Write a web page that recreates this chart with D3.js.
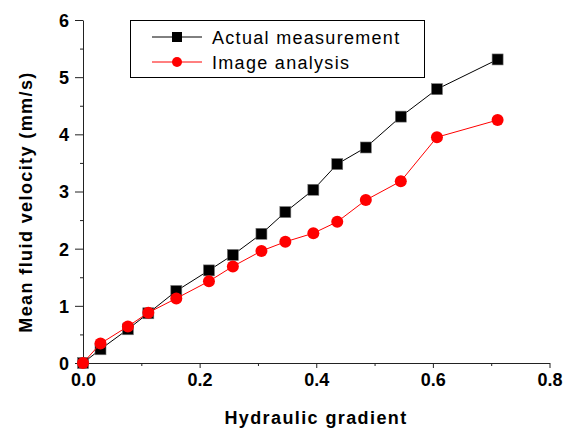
<!DOCTYPE html>
<html>
<head>
<meta charset="utf-8">
<script src="https://cdn.jsdelivr.net/npm/d3@7"></script>
<style>
  body { margin: 0; background: #fff; }
  svg { display: block; }
</style>
</head>
<body>
<div class="chart"></div>
<script>
var gradient = [0, 0.03, 0.077, 0.112, 0.16, 0.216, 0.257, 0.306, 0.347, 0.395, 0.436, 0.485, 0.545, 0.607, 0.711];
var actualMeasurement = [0, 0.24, 0.59, 0.87, 1.26, 1.62, 1.89, 2.26, 2.64, 3.03, 3.48, 3.77, 4.31, 4.79, 5.31];
var imageAnalysis = [0, 0.34, 0.64, 0.88, 1.13, 1.43, 1.69, 1.96, 2.12, 2.27, 2.47, 2.85, 3.18, 3.95, 4.25];
var seriesNames = ["Actual measurement", "Image analysis"];
var xTicks = [0, 0.2, 0.4, 0.6, 0.8];
var yTicks = [0, 1, 2, 3, 4, 5, 6];

var width = 572, height = 430;
var margin = { top: 20, right: 23, bottom: 67, left: 83 };
var plotW = width - margin.left - margin.right,
  plotH = height - margin.top - margin.bottom;

var svg = d3
  .select(".chart")
  .append("svg")
  .attr("width", width)
  .attr("height", height);

var g = svg
  .append("g")
  .attr("transform", "translate(" + margin.left + "," + margin.top + ")");

var x = d3.scaleLinear().domain([0, 0.8]).range([0, 466.5]);
var y = d3.scaleLinear().domain([0, 6]).range([plotH, 0]);

var axisColor = "#222";
var tickFont = "bold 18px 'Liberation Sans', Arial, sans-serif";

// minor ticks first
g.append("g")
  .attr("transform", "translate(0," + plotH + ")")
  .call(d3.axisBottom(x).tickValues(d3.range(0.1, 0.8, 0.2)).tickSize(3).tickFormat(""))
  .call(function (a) { a.select(".domain").remove(); });
g.append("g")
  .call(d3.axisLeft(y).tickValues(d3.range(0.5, 6, 1)).tickSize(3).tickFormat(""))
  .call(function (a) { a.select(".domain").remove(); });

var xAxis = g
  .append("g")
  .attr("transform", "translate(0," + plotH + ")")
  .call(d3.axisBottom(x).tickValues(xTicks).tickSize(5).tickSizeOuter(0).tickPadding(5).tickFormat(d3.format(".1f")));

var yAxis = g
  .append("g")
  .call(d3.axisLeft(y).tickValues(yTicks).tickSize(8).tickSizeOuter(0).tickPadding(6).tickFormat(d3.format("d")));

[xAxis, yAxis].forEach(function (a) {
  a.selectAll("text").style("font", tickFont).style("fill", "#000");
});
g.selectAll(".tick line, .domain").attr("stroke", axisColor);
yAxis.selectAll("text").attr("dy", "0.36em");

// axis titles
svg
  .append("text")
  .attr("x", 316)
  .attr("y", 424)
  .attr("text-anchor", "middle")
  .style("font", "bold 18px 'Liberation Sans', Arial, sans-serif")
  .style("letter-spacing", "1.4px")
  .text("Hydraulic gradient");

svg
  .append("text")
  .attr("transform", "translate(32,202) rotate(-90)")
  .attr("text-anchor", "middle")
  .style("font", "bold 18px 'Liberation Sans', Arial, sans-serif")
  .style("letter-spacing", "1.4px")
  .text("Mean fluid velocity (mm/s)");

var line = d3
  .line()
  .x(function (d) { return x(d[0]); })
  .y(function (d) { return y(d[1]); });

var black = gradient.map(function (v, i) { return [v, actualMeasurement[i]]; });
var red = gradient.map(function (v, i) { return [v, imageAnalysis[i]]; });

g.append("path")
  .attr("d", line(black))
  .attr("fill", "none")
  .attr("stroke", "#000")
  .attr("stroke-width", 1);

g.selectAll(".sq")
  .data(black)
  .enter()
  .append("rect")
  .attr("x", function (d) { return x(d[0]) - 5.5; })
  .attr("y", function (d) { return y(d[1]) - 5.5; })
  .attr("width", 11)
  .attr("height", 11)
  .attr("fill", "#000")
  .attr("stroke", "#777")
  .attr("stroke-width", 0.6);

g.append("path")
  .attr("d", line(red))
  .attr("fill", "none")
  .attr("stroke", "#ff0000")
  .attr("stroke-width", 1);

g.selectAll(".dot")
  .data(red)
  .enter()
  .append("circle")
  .attr("cx", function (d) { return x(d[0]); })
  .attr("cy", function (d) { return y(d[1]); })
  .attr("r", 6)
  .attr("fill", "#ff0000");

// legend
var legend = svg.append("g");
legend
  .append("rect")
  .attr("x", 130.5)
  .attr("y", 20.5)
  .attr("width", 294)
  .attr("height", 57)
  .attr("fill", "#fff")
  .attr("stroke", "#000")
  .attr("stroke-width", 1);

var rows = [
  { name: seriesNames[0], color: "#000", shape: "square", y: 37 },
  { name: seriesNames[1], color: "#ff0000", shape: "circle", y: 62 }
];
rows.forEach(function (r) {
  legend
    .append("line")
    .attr("x1", 152)
    .attr("x2", 202)
    .attr("y1", r.y)
    .attr("y2", r.y)
    .attr("stroke", r.color)
    .attr("stroke-width", 1);
  if (r.shape === "square") {
    legend
      .append("rect")
      .attr("x", 172)
      .attr("y", r.y - 5)
      .attr("width", 10)
      .attr("height", 10)
      .attr("fill", r.color);
  } else {
    legend
      .append("circle")
      .attr("cx", 177)
      .attr("cy", r.y)
      .attr("r", 5)
      .attr("fill", r.color);
  }
  legend
    .append("text")
    .attr("x", 212)
    .attr("y", r.y + 6.5)
    .style("font", "18px 'Liberation Sans', Arial, sans-serif")
    .style("letter-spacing", "1.3px")
    .text(r.name);
});
</script>
</body>
</html>
